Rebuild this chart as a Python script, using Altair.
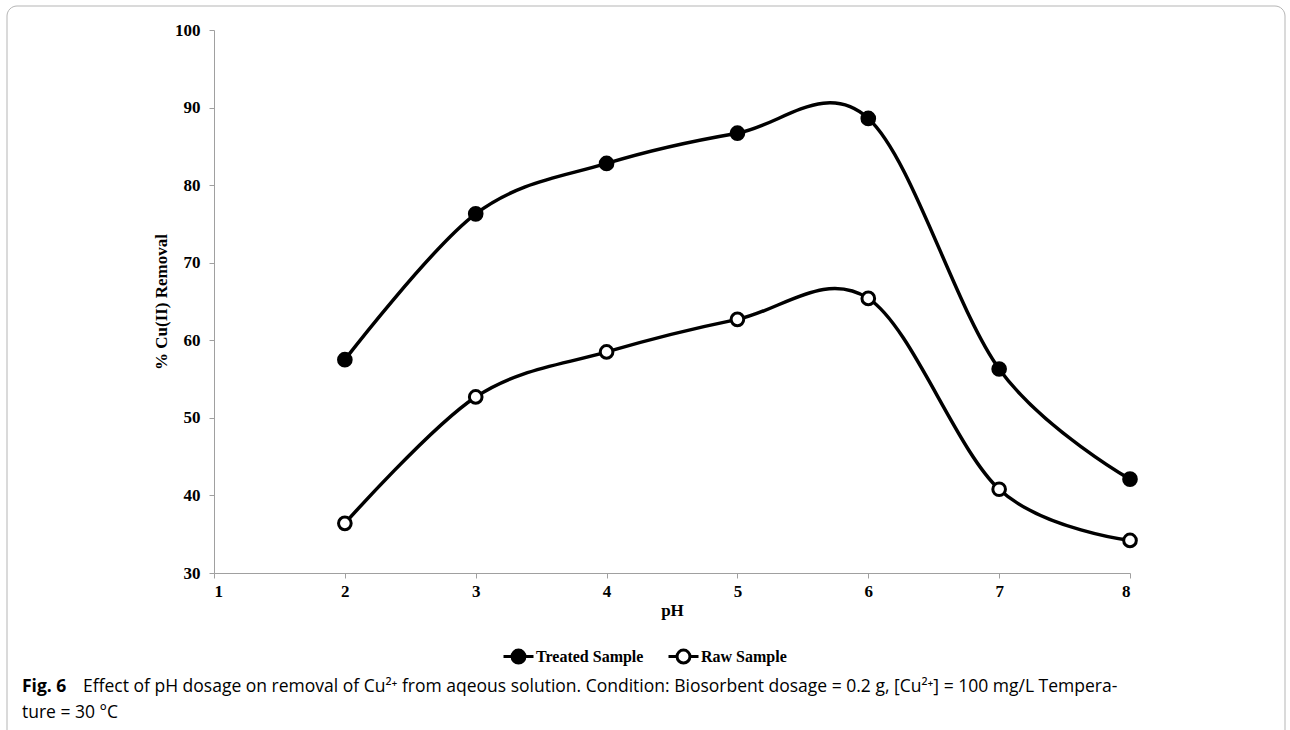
import altair as alt
import pandas as pd

ph = [2, 3, 4, 5, 6, 7, 8]
treated = [57.5, 76.3, 82.8, 86.7, 88.6, 56.3, 42.1]
raw = [36.4, 52.7, 58.5, 62.7, 65.4, 40.8, 34.2]
series_names = ["Treated Sample", "Raw Sample"]
x_ticks = [1, 2, 3, 4, 5, 6, 7, 8]
y_ticks = [30, 40, 50, 60, 70, 80, 90, 100]

caption_bold = "Fig. 6"
caption_line1 = ("Effect of pH dosage on removal of Cu\u00b2\u207a from aqeous solution. "
                 "Condition: Biosorbent dosage = 0.2 g, [Cu\u00b2\u207a] = 100 mg/L Tempera-")
caption_line2 = "ture = 30 \u00b0C"

df = pd.DataFrame({
    "pH": ph * 2,
    "value": treated + raw,
    "series": [series_names[0]] * len(ph) + [series_names[1]] * len(ph),
})

SERIF = "Liberation Serif"
SANS = "Open Sans"
xenc = alt.X("pH:Q", scale=alt.Scale(domain=[1, 8], nice=False),
             axis=alt.Axis(values=x_ticks, title="pH", grid=False, format="d",
                           domainColor="#a0a0a0", tickColor="#a0a0a0", tickSize=5,
                           labelFont=SERIF, labelFontWeight="bold", labelFontSize=17,
                           labelColor="black", labelPadding=5,
                           titleFont=SERIF, titleFontWeight="bold", titleFontSize=17,
                           titleColor="black", titlePadding=3))
yenc = alt.Y("value:Q", scale=alt.Scale(domain=[30, 100], nice=False),
             axis=alt.Axis(values=y_ticks, title="% Cu(II) Removal", grid=False,
                           domainColor="#a0a0a0", tickColor="#a0a0a0", tickSize=5,
                           labelFont=SERIF, labelFontWeight="bold", labelFontSize=17,
                           labelColor="black", labelPadding=9,
                           titleFont=SERIF, titleFontWeight="bold", titleFontSize=17,
                           titleColor="black", titlePadding=4))

base = alt.Chart(df)

lines = base.mark_line(interpolate="cardinal", color="black", strokeWidth=3.5).encode(
    x=xenc, y=yenc, detail="series:N")

legend_path = ("M-1,0L-0.43,0M0.43,0L1,0M0.43,0A0.43,0.43,0,1,1,-0.43,0"
               "A0.43,0.43,0,1,1,0.43,0Z")

points = base.mark_point(filled=True, stroke="black", strokeWidth=3, opacity=1,
                         size=160).encode(
    x="pH:Q", y="value:Q",
    fill=alt.Fill("series:N", scale=alt.Scale(domain=series_names, range=["black", "white"]),
                  legend=alt.Legend(title=None, orient="none", legendX=288, legendY=610,
                                    direction="horizontal", symbolType=legend_path,
                                    symbolSize=900, symbolStrokeWidth=3,
                                    symbolStrokeColor="black", columnPadding=18,
                                    labelOffset=1, labelFont=SERIF, labelFontWeight="bold",
                                    labelFontSize=16, labelColor="black", labelLimit=300)),
)

one = pd.DataFrame({"t": [caption_bold], "a": [caption_line1], "b": [caption_line2]})
cap0 = alt.Chart(one).mark_text(align="left", baseline="alphabetic", font=SANS,
                                fontWeight="bold", fontSize=17.5, color="black").encode(
    text="t:N", x=alt.value(-192), y=alt.value(662))
cap1 = alt.Chart(one).mark_text(align="left", baseline="alphabetic", font=SANS,
                                fontSize=17.5, color="black").encode(
    text="a:N", x=alt.value(-131), y=alt.value(662))
cap2 = alt.Chart(one).mark_text(align="left", baseline="alphabetic", font=SANS,
                                fontSize=17.5, color="black").encode(
    text="b:N", x=alt.value(-192), y=alt.value(688))

frame = alt.Chart(one).mark_rect(filled=False, stroke="#b5b5b5", strokeWidth=1,
                                 cornerRadius=10).encode(
    x=alt.value(-207), x2=alt.value(1071), y=alt.value(-24), y2=alt.value(712))

chart = alt.layer(frame, lines, points, cap0, cap1, cap2).properties(
    width=916, height=543,
    autosize=alt.AutoSizeParams(type="none"),
    padding={"left": 214, "top": 30, "right": 160, "bottom": 157},
).configure_view(stroke=None)

chart.save("out.html", embed_options={"renderer": "svg", "actions": False})
